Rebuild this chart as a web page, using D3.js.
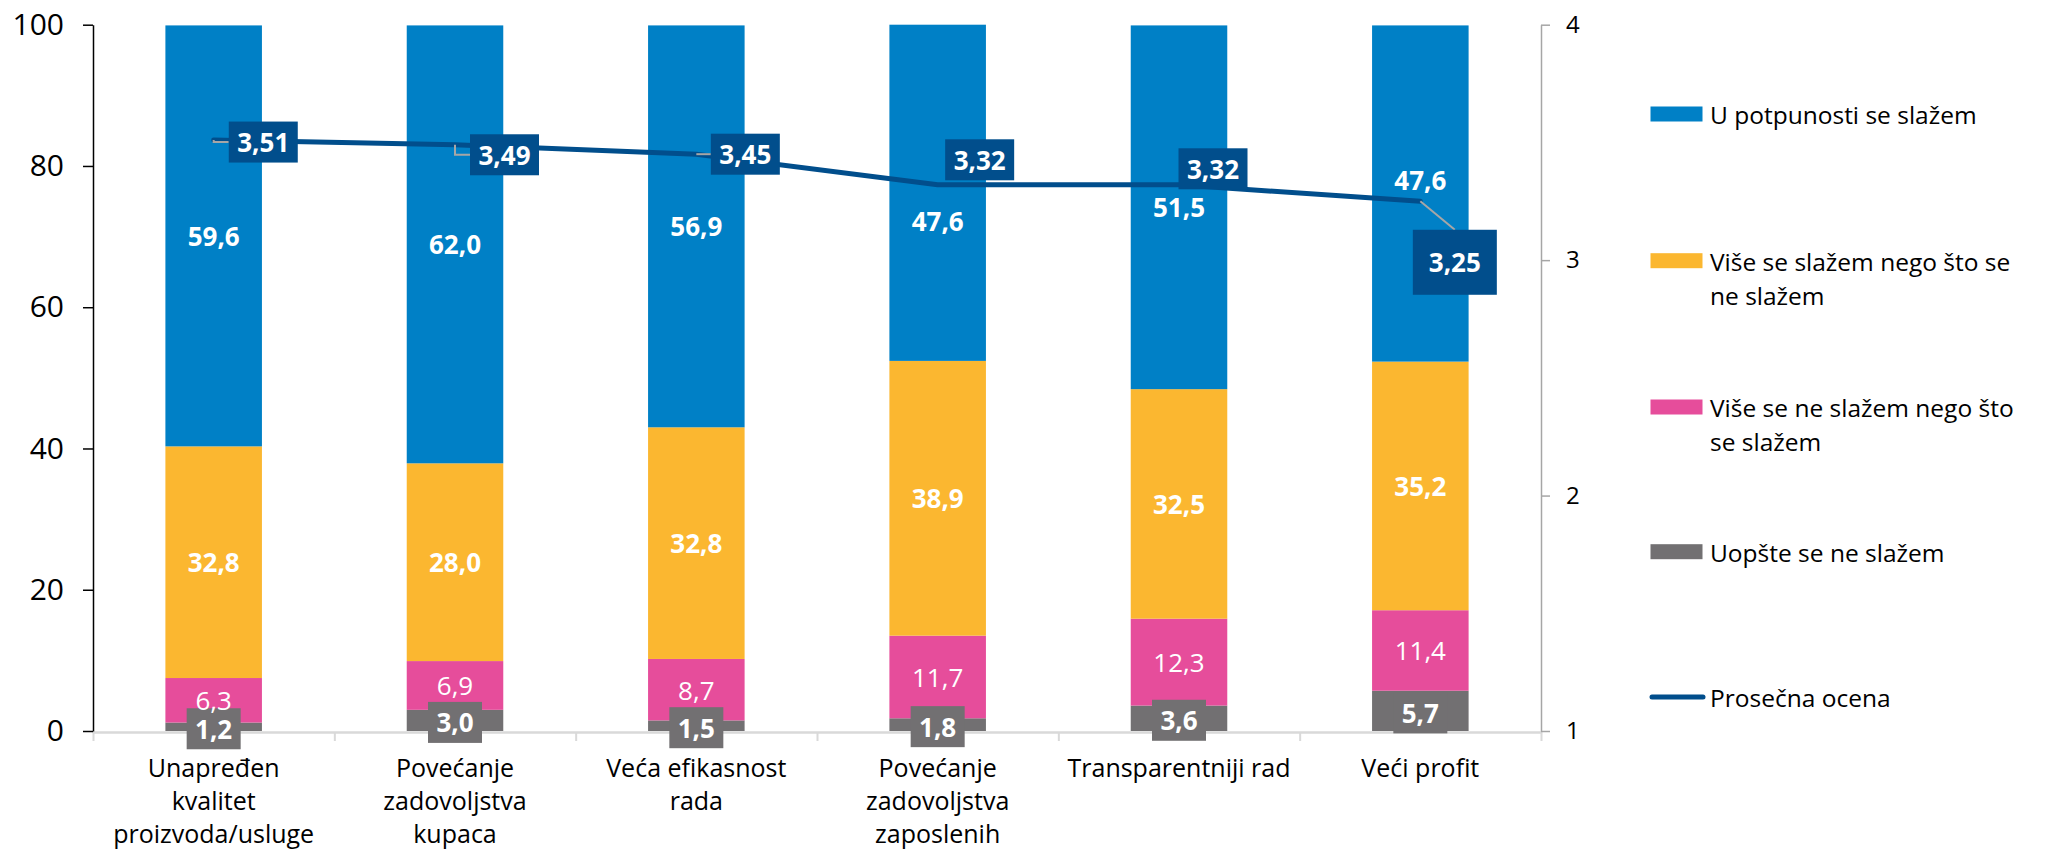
<!DOCTYPE html>
<html>
<head>
<meta charset="utf-8">
<script src="https://cdn.jsdelivr.net/npm/d3@7"></script>
<style>
  html, body { margin: 0; padding: 0; background: #fff; }
  svg text { font-family: "Open Sans", "DejaVu Sans", sans-serif; }
</style>
</head>
<body>
<svg id="chart" width="2062" height="849"></svg>
<script>
// ---------- DATA ----------
const categories = [
  "Unapređen kvalitet proizvoda/usluge",
  "Povećanje zadovoljstva kupaca",
  "Veća efikasnost rada",
  "Povećanje zadovoljstva zaposlenih",
  "Transparentniji rad",
  "Veći profit"
];
const categoryLines = [
  ["Unapređen", "kvalitet", "proizvoda/usluge"],
  ["Povećanje", "zadovoljstva", "kupaca"],
  ["Veća efikasnost", "rada"],
  ["Povećanje", "zadovoljstva", "zaposlenih"],
  ["Transparentniji rad"],
  ["Veći profit"]
];
const uopsteNe   = [1.2, 3.0, 1.5, 1.8, 3.6, 5.7];
const viseNe     = [6.3, 6.9, 8.7, 11.7, 12.3, 11.4];
const viseDa     = [32.8, 28.0, 32.8, 38.9, 32.5, 35.2];
const uPotpunosti= [59.6, 62.0, 56.9, 47.6, 51.5, 47.6];
const prosecna   = [3.51, 3.49, 3.45, 3.32, 3.32, 3.25];

const leftTicks  = [0, 20, 40, 60, 80, 100];
const rightTicks = [1, 2, 3, 4];

const legendLines = {
  uPotpunosti: ["U potpunosti se slažem"],
  viseDa: ["Više se slažem nego što se", "ne slažem"],
  viseNe: ["Više se ne slažem nego što", "se slažem"],
  uopsteNe: ["Uopšte se ne slažem"],
  prosecna: ["Prosečna ocena"]
};

// ---------- STYLE / LAYOUT ----------
const colors = {
  uPotpunosti: "#0080C6",
  viseDa: "#FBB730",
  viseNe: "#E64D9B",
  uopsteNe: "#727072",
  prosecna: "#014E8C",
  labelBox: "#014E8C"
};
// label box placement relative to the line point (dx, dy of box centre), box size, leader type
const avgLabelLayout = [
  {dx: 49.6, dy: 2,   w: 69, h: 41, leader: "elbow"},
  {dx: 49.5, dy: 10,  w: 69, h: 41, leader: "elbow"},
  {dx: 49,   dy: 0,   w: 69, h: 41, leader: "elbow"},
  {dx: 42,   dy: -25, w: 69, h: 41, leader: "none"},
  {dx: 34,   dy: -16, w: 69, h: 41, leader: "none"},
  {dx: 34.5, dy: 61,  w: 84, h: 65, leader: "diag"}
];
// manual vertical nudges of the top-segment labels (pixels)
const topLabelNudge = [0, 0, 0, 28, 0, -14];

const plot = {left: 93, right: 1541, top: 24.7, bottom: 731};

// ---------- BUILD ----------
const svg = d3.select("#chart");

const rows = categories.map((c, i) => ({
  cat: c,
  uopsteNe: uopsteNe[i],
  viseNe: viseNe[i],
  viseDa: viseDa[i],
  uPotpunosti: uPotpunosti[i]
}));
const keys = ["uopsteNe", "viseNe", "viseDa", "uPotpunosti"];
const stacked = d3.stack().keys(keys)(rows);

const x = d3.scaleBand().domain(categories)
  .range([plot.left, plot.right]).paddingInner(0.6).paddingOuter(0.3);
const yL = d3.scaleLinear().domain([0, 100]).range([plot.bottom, plot.top]);
const yR = d3.scaleLinear().domain([1, 4]).range([plot.bottom, plot.top]);
const xBound = d3.scaleLinear().domain([0, categories.length]).range([plot.left, plot.right]);

// bars
const layers = svg.append("g").selectAll("g").data(stacked).join("g")
  .attr("fill", d => colors[d.key]);
layers.selectAll("rect").data(d => d).join("rect")
  .attr("x", d => x(d.data.cat))
  .attr("width", x.bandwidth())
  .attr("y", d => yL(d[1]))
  .attr("height", d => yL(d[0]) - yL(d[1]));

// bottom axis (boundary ticks)
const gx = svg.append("g").attr("transform", `translate(0,${plot.bottom + 1})`)
  .call(d3.axisBottom(xBound).tickValues(d3.range(categories.length + 1))
    .tickSize(9).tickSizeOuter(0).tickFormat(""));
gx.select(".domain").attr("stroke", "#D9D9D9").attr("stroke-width", 2.5);
gx.selectAll(".tick line").attr("stroke", "#D9D9D9").attr("stroke-width", 2);

// category labels
const catG = svg.append("g");
categories.forEach((c, i) => {
  const t = catG.append("text")
    .attr("x", x(c) + x.bandwidth() / 2)
    .attr("y", 777)
    .attr("text-anchor", "middle")
    .attr("font-size", 25)
    .attr("fill", "#000");
  categoryLines[i].forEach((ln, j) => {
    t.append("tspan").attr("x", x(c) + x.bandwidth() / 2)
      .attr("dy", j === 0 ? 0 : 33).text(ln);
  });
});

// left axis
const gl = svg.append("g").attr("transform", `translate(${plot.left},0)`)
  .call(d3.axisLeft(yL).tickValues(leftTicks).tickSize(10).tickSizeOuter(0).tickPadding(19)
    .tickFormat(d3.format("d")));
gl.select(".domain").attr("stroke", "#000").attr("stroke-width", 1.5);
gl.selectAll(".tick line").attr("stroke", "#000").attr("stroke-width", 1.5);
gl.selectAll(".tick text").attr("font-size", 30).attr("fill", "#000")
  .attr("font-family", "'Open Sans', sans-serif");

// right axis
const gr = svg.append("g").attr("transform", `translate(${plot.right},0)`)
  .call(d3.axisRight(yR).tickValues(rightTicks).tickSize(9).tickSizeOuter(0).tickPadding(16)
    .tickFormat(d3.format("d")));
gr.select(".domain").attr("stroke", "#A6A6A6").attr("stroke-width", 1.5);
gr.selectAll(".tick line").attr("stroke", "#A6A6A6").attr("stroke-width", 1.5);
gr.selectAll(".tick text").attr("font-size", 24).attr("fill", "#000")
  .attr("font-family", "'Open Sans', sans-serif");

// bar value labels
const fmt = v => v.toFixed(1).replace(".", ",");
stacked.forEach(layer => {
  layer.forEach((d, i) => {
    const cx = x(d.data.cat) + x.bandwidth() / 2;
    let cy = (yL(d[0]) + yL(d[1])) / 2;
    const val = d.data[layer.key];
    if (layer.key === "uopsteNe") {
      svg.append("rect")
        .attr("x", cx - 27).attr("y", cy + 2 - 20.5)
        .attr("width", 54).attr("height", 41)
        .attr("fill", colors.uopsteNe);
      svg.append("text").attr("x", cx).attr("y", cy + 2)
        .attr("text-anchor", "middle").attr("dominant-baseline", "central")
        .attr("font-size", 26).attr("font-weight", "bold").attr("fill", "#fff")
        .text(fmt(val));
    } else {
      if (layer.key === "uPotpunosti") cy += topLabelNudge[i];
      svg.append("text").attr("x", cx).attr("y", cy)
        .attr("text-anchor", "middle").attr("dominant-baseline", "central")
        .attr("font-size", 26)
        .attr("font-weight", layer.key === "viseNe" ? "normal" : "bold")
        .attr("fill", "#fff")
        .text(fmt(val));
    }
  });
});

// average line
const cxOf = i => x(categories[i]) + x.bandwidth() / 2;
const line = d3.line().x((d, i) => cxOf(i)).y(d => yR(d));
svg.append("path").datum(prosecna)
  .attr("d", line).attr("fill", "none")
  .attr("stroke", colors.prosecna).attr("stroke-width", 5)
  .attr("stroke-linejoin", "round").attr("stroke-linecap", "round");

// average labels
const fmt2 = v => v.toFixed(2).replace(".", ",");
prosecna.forEach((v, i) => {
  const px = cxOf(i), py = yR(v);
  const L = avgLabelLayout[i];
  const bx = px + L.dx, by = py + L.dy;
  if (L.leader === "elbow") {
    svg.append("polyline")
      .attr("points", `${px},${py} ${px},${by} ${bx - L.w / 2},${by}`)
      .attr("fill", "none").attr("stroke", "#A6A6A6").attr("stroke-width", 2);
  } else if (L.leader === "diag") {
    svg.append("line").attr("x1", px).attr("y1", py)
      .attr("x2", bx).attr("y2", by - L.h / 2)
      .attr("stroke", "#A6A6A6").attr("stroke-width", 2);
  }
  svg.append("rect").attr("x", bx - L.w / 2).attr("y", by - L.h / 2)
    .attr("width", L.w).attr("height", L.h).attr("fill", colors.labelBox);
  svg.append("text").attr("x", bx).attr("y", by)
    .attr("text-anchor", "middle").attr("dominant-baseline", "central")
    .attr("font-size", 26).attr("font-weight", "bold").attr("fill", "#fff")
    .text(fmt2(v));
});

// legend
const legendOrder = ["uPotpunosti", "viseDa", "viseNe", "uopsteNe", "prosecna"];
const legendY = [114, 260.7, 407, 551.7, 697];
legendOrder.forEach((k, i) => {
  const y = legendY[i];
  if (k === "prosecna") {
    svg.append("line").attr("x1", 1652).attr("x2", 1703)
      .attr("y1", y).attr("y2", y)
      .attr("stroke", colors.prosecna).attr("stroke-width", 5).attr("stroke-linecap", "round");
  } else {
    svg.append("rect").attr("x", 1650.5).attr("y", y - 7.5)
      .attr("width", 52).attr("height", 15).attr("fill", colors[k]);
  }
  const t = svg.append("text").attr("x", 1710).attr("y", y)
    .attr("dominant-baseline", "central").attr("font-size", 24.5).attr("fill", "#000");
  legendLines[k].forEach((ln, j) => {
    t.append("tspan").attr("x", 1710).attr("dy", j === 0 ? 0 : 34).text(ln);
  });
});
</script>
</body>
</html>
